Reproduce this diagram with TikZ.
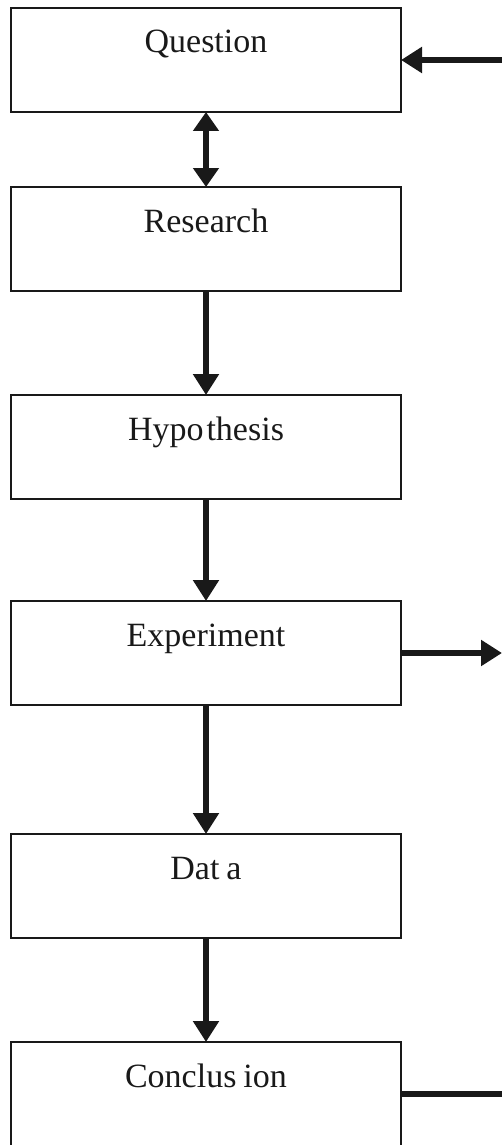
\documentclass[tikz,border=0pt]{standalone}
\usepackage{fontspec}
\setmainfont{Liberation Serif}
\usetikzlibrary{arrows.meta}

\begin{document}
\begin{tikzpicture}[x=1pt, y=-1pt,
    stage/.style={draw=black!90, line width=2.8pt, outer sep=0pt, inner sep=0pt,
        minimum width=390pt, text height=45pt, text depth=59pt, anchor=north,
        font=\fontsize{34}{40}\selectfont, text=black!90},
    flow/.style={line width=6pt, draw=black!90, -{Triangle[length=21pt, width=25pt]}},
    both/.style={line width=6pt, draw=black!90, {Triangle[length=19pt, width=25pt]}-{Triangle[length=19pt, width=25pt]}}]
    \useasboundingbox (0, 0) rectangle (502, 1145);

    % the six stages
    \node[stage] (question)   at (206, 8)    {Question};
    \node[stage] (research)   at (206, 187)  {Research};
    \node[stage] (hypothesis) at (206, 395)  {Hypo\kern3pt thesis};
    \node[stage] (experiment) at (206, 601)  {Experiment};
    \node[stage] (data)       at (206, 834)  {Dat\kern7pt a};
    \node[stage] (conclusion) at (206, 1042) {Conclus\kern7pt ion};

    % loose ends on the right
    \coordinate (qin)  at (502, 0 |- question.east);
    \coordinate (eout) at (502, 0 |- experiment.east);
    \coordinate (cout) at (502, 0 |- conclusion.east);

    \draw[both] (question.south) -- (research.north);
    \draw[flow] (research.south) -- (hypothesis.north);
    \draw[flow] (hypothesis.south) -- (experiment.north);
    \draw[flow] (experiment.south) -- (data.north);
    \draw[flow] (data.south) -- (conclusion.north);

    \draw[flow] (qin) -- (question.east);
    \draw[flow] (experiment.east) -- (eout);
    \draw[line width=6pt, draw=black!90] (conclusion.east) -- (cout);
\end{tikzpicture}
\end{document}
